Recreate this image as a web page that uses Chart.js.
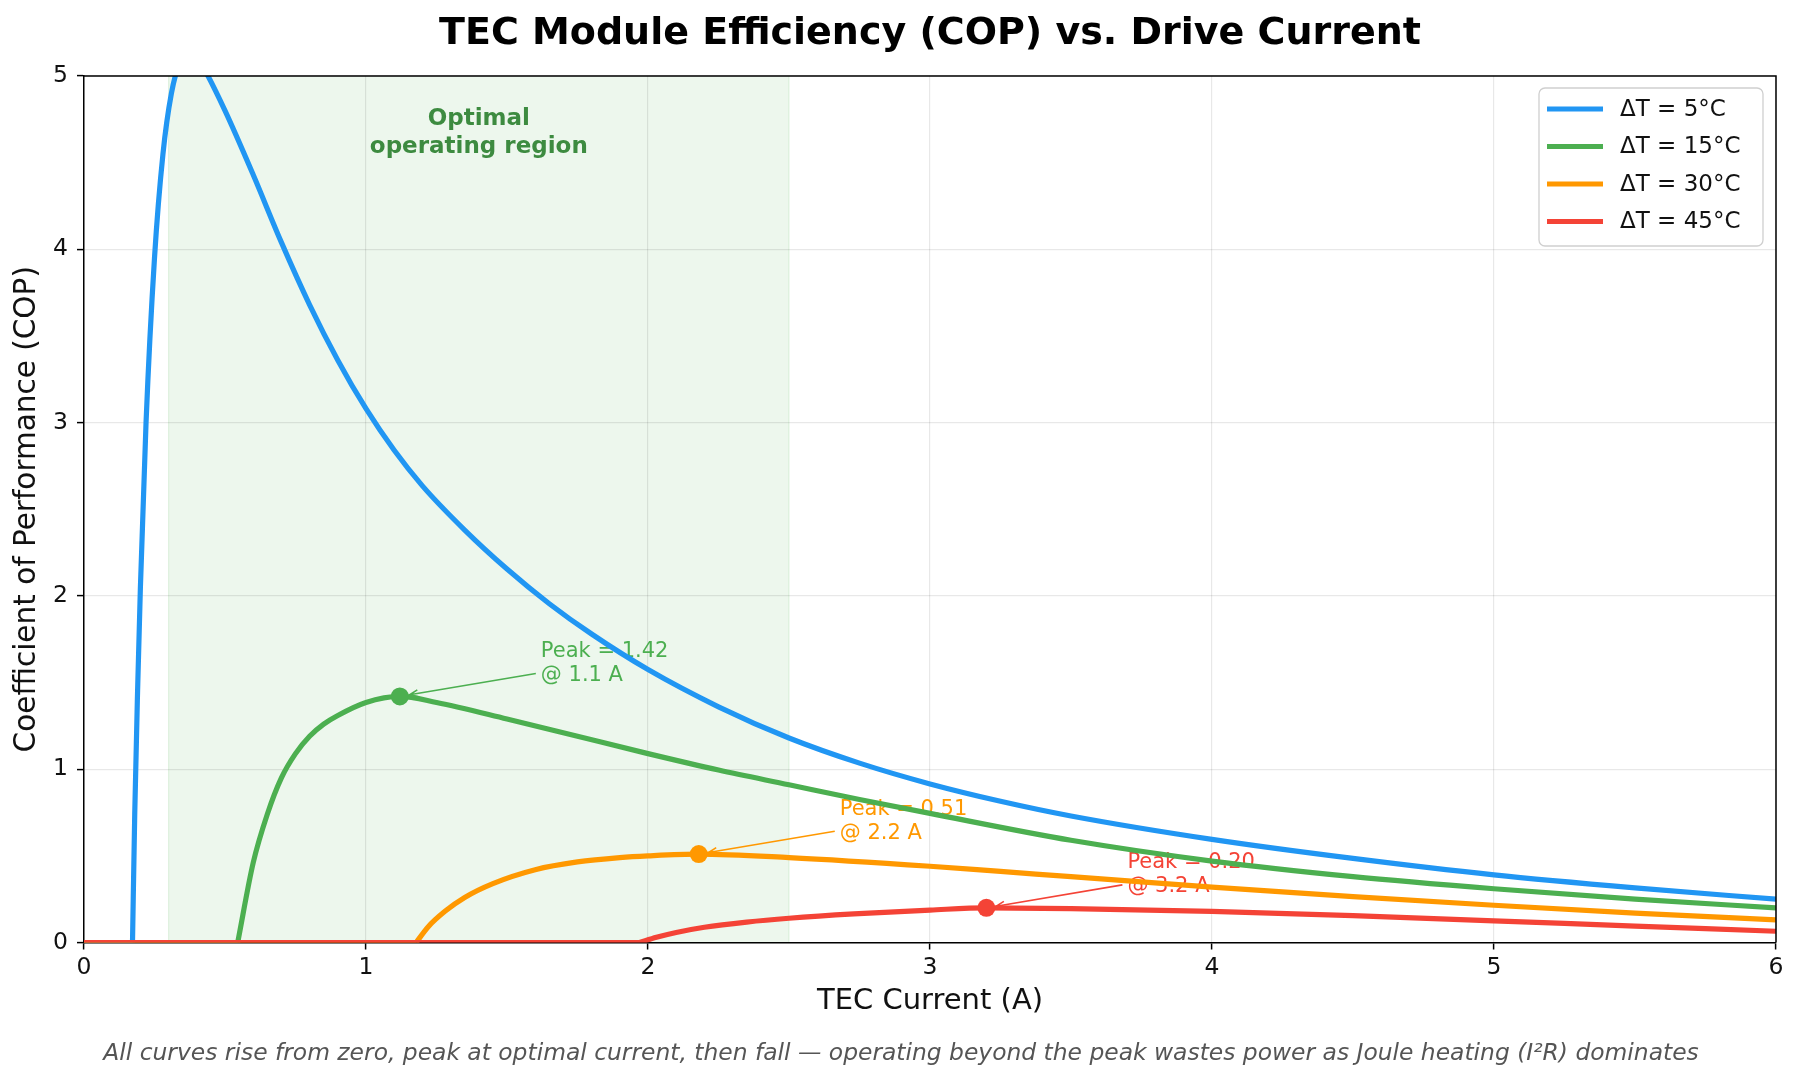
<!DOCTYPE html>
<html>
<head>
<meta charset="utf-8">
<title>TEC Module Efficiency (COP) vs. Drive Current</title>
<script src="https://cdn.jsdelivr.net/npm/chart.js@4.4.1/dist/chart.umd.min.js"></script>
<style>
  html, body { margin: 0; padding: 0; background: #fff; }
  canvas { display: block; }
</style>
</head>
<body>
<canvas id="copChart" width="1800" height="1083"></canvas>
<script>
// series names and colours
const seriesLabels = ['ΔT = 5°C', 'ΔT = 15°C', 'ΔT = 30°C', 'ΔT = 45°C'];
const seriesColors = ['#2196F3', '#4CAF50', '#FF9800', '#F44336'];

// TEC current (A) / COP, starting where it leaves zero
const currentDT5 = [0.172, 0.18, 0.19, 0.20, 0.22, 0.25, 0.28, 0.31, 0.34, 0.37, 0.40, 0.43, 0.5, 0.6, 0.7, 0.8, 0.9, 1.0, 1.1, 1.2, 1.35, 1.5, 1.65, 1.8, 2.0, 2.25, 2.5, 2.75, 3.0, 3.25, 3.5, 4.0, 4.5, 5.0, 5.5, 6.0];
const copDT5 = [0, 0.75, 1.45, 2.05, 3.0, 3.95, 4.55, 4.9, 5.08, 5.14, 5.11, 5.03, 4.80, 4.43, 4.04, 3.68, 3.36, 3.08, 2.84, 2.635, 2.38, 2.155, 1.955, 1.78, 1.575, 1.36, 1.18, 1.035, 0.915, 0.815, 0.73, 0.595, 0.485, 0.39, 0.315, 0.25];

const currentDT15 = [0.545, 0.6, 0.65, 0.7, 0.75, 0.8, 0.85, 0.9, 1.0, 1.12, 1.25, 1.5, 1.75, 2.0, 2.25, 2.5, 2.75, 3.0, 3.5, 4.0, 4.5, 5.0, 5.5, 6.0];
const copDT15 = [0, 0.46, 0.74, 0.95, 1.09, 1.19, 1.26, 1.31, 1.385, 1.42, 1.385, 1.29, 1.19, 1.09, 0.995, 0.91, 0.825, 0.745, 0.59, 0.47, 0.38, 0.31, 0.25, 0.20];

const currentDT30 = [1.178, 1.22, 1.28, 1.35, 1.45, 1.6, 1.75, 1.9, 2.0, 2.18, 2.5, 3.0, 3.25, 3.5, 4.0, 4.5, 5.0, 5.5, 6.0];
const copDT30 = [0, 0.09, 0.18, 0.26, 0.34, 0.42, 0.465, 0.49, 0.50, 0.51, 0.49, 0.44, 0.41, 0.38, 0.32, 0.265, 0.215, 0.17, 0.13];

const currentDT45 = [1.97, 2.03, 2.1, 2.2, 2.35, 2.5, 2.73, 3.0, 3.2, 3.5, 4.0, 4.5, 5.0, 5.5, 6.0];
const copDT45 = [0, 0.03, 0.058, 0.088, 0.118, 0.14, 0.165, 0.187, 0.20, 0.196, 0.18, 0.155, 0.125, 0.095, 0.065];

// marked peaks
const peakCurrent = [1.12, 2.18, 3.2];
const peakCop = [1.42, 0.51, 0.20];
const peakColors = ['#4CAF50', '#FF9800', '#F44336'];
const peakText = [['Peak = 1.42', '@ 1.1 A'], ['Peak = 0.51', '@ 2.2 A'], ['Peak = 0.20', '@ 3.2 A']];

// shaded band
const regionStart = 0.3;
const regionEnd = 2.5;
const regionText = ['Optimal', 'operating region'];

const chartTitle = 'TEC Module Efficiency (COP) vs. Drive Current';
const footNote = 'All curves rise from zero, peak at optimal current, then fall — operating beyond the peak wastes power as Joule heating (I²R) dominates';

const FONT = "'DejaVu Sans', 'Liberation Sans', sans-serif";
Chart.defaults.font.family = FONT;

// zero run along the axis, then a break, then the curve itself
function curve(xs, ys) {
  const pts = [{x: 0, y: 0}, {x: xs[0], y: 0}, {x: xs[0], y: null}];
  xs.forEach((x, i) => pts.push({x: x, y: ys[i]}));
  return pts;
}

const curves = [
  curve(currentDT5, copDT5),
  curve(currentDT15, copDT15),
  curve(currentDT30, copDT30),
  curve(currentDT45, copDT45),
];

const datasets = curves.map((pts, i) => ({
  label: seriesLabels[i],
  data: pts,
  borderColor: seriesColors[i],
  backgroundColor: seriesColors[i],
  borderWidth: 5.2,
  pointRadius: 0,
  pointHoverRadius: 0,
  cubicInterpolationMode: 'monotone',
  spanGaps: false,
  clip: 0,
  order: 4 - i,
}));

datasets.push({
  label: 'peaks',
  data: peakCurrent.map((c, i) => ({x: c, y: peakCop[i]})),
  showLine: false,
  pointRadius: 9,
  pointHoverRadius: 9,
  pointBorderWidth: 0,
  pointBackgroundColor: peakColors,
  pointBorderColor: peakColors,
  clip: 0,
  order: 0,
});

const decor = {
  id: 'decor',
  beforeDraw(chart) {
    const {ctx, chartArea: a, scales: {x}} = chart;
    ctx.save();
    ctx.fillStyle = '#fff';
    ctx.fillRect(0, 0, chart.width, chart.height);
    const x0 = x.getPixelForValue(regionStart);
    const x1 = x.getPixelForValue(regionEnd);
    ctx.fillStyle = 'rgba(76,175,80,0.1)';
    ctx.fillRect(x0, a.top, x1 - x0, a.bottom - a.top);
    ctx.strokeStyle = 'rgba(76,175,80,0.14)';
    ctx.lineWidth = 1.2;
    ctx.beginPath();
    ctx.moveTo(x0, a.top); ctx.lineTo(x0, a.bottom);
    ctx.moveTo(x1, a.top); ctx.lineTo(x1, a.bottom);
    ctx.stroke();
    ctx.restore();
  },
  beforeDatasetsDraw(chart) {
    const {ctx, scales: {x, y}} = chart;
    ctx.save();
    // band label
    ctx.fillStyle = '#3d8b40';
    ctx.font = 'bold 23px ' + FONT;
    ctx.textAlign = 'center';
    ctx.textBaseline = 'middle';
    const cx = x.getPixelForValue((regionStart + regionEnd) / 2);
    const cy = y.getPixelForValue(4.67);
    ctx.fillText(regionText[0], cx, cy - 14);
    ctx.fillText(regionText[1], cx, cy + 14);

    // peak notes with arrows
    ctx.font = '21px ' + FONT;
    ctx.textAlign = 'left';
    peakCurrent.forEach((c, i) => {
      const px = x.getPixelForValue(c);
      const py = y.getPixelForValue(peakCop[i]);
      const tx = x.getPixelForValue(c + 0.5);
      const ty = y.getPixelForValue(peakCop[i] + 0.19);
      ctx.fillStyle = peakColors[i];
      ctx.fillText(peakText[i][0], tx, ty - 12);
      ctx.fillText(peakText[i][1], tx, ty + 12);

      const sx = tx - 5, sy = ty + 10;
      const ang = Math.atan2(py - sy, px - sx);
      const ex = px - Math.cos(ang) * 10, ey = py - Math.sin(ang) * 10;
      ctx.strokeStyle = peakColors[i];
      ctx.lineWidth = 1.6;
      ctx.beginPath();
      ctx.moveTo(sx, sy);
      ctx.lineTo(ex, ey);
      const h = 9;
      ctx.moveTo(ex - Math.cos(ang - 0.4) * h, ey - Math.sin(ang - 0.4) * h);
      ctx.lineTo(ex, ey);
      ctx.lineTo(ex - Math.cos(ang + 0.4) * h, ey - Math.sin(ang + 0.4) * h);
      ctx.stroke();
    });
    ctx.restore();
  },
  afterDraw(chart) {
    const {ctx, chartArea: a} = chart;
    ctx.save();
    // title, centred over the plot area
    ctx.fillStyle = '#000';
    ctx.font = 'bold 38px ' + FONT;
    ctx.textAlign = 'center';
    ctx.textBaseline = 'middle';
    ctx.fillText(chartTitle, (a.left + a.right) / 2, 34);

    // footnote, centred on the figure
    ctx.fillStyle = '#555';
    ctx.font = 'italic 23.4px ' + FONT;
    ctx.fillText(footNote, chart.width / 2 + 1, 1054);

    // top and right spines
    ctx.strokeStyle = '#000';
    ctx.lineWidth = 1.5;
    ctx.beginPath();
    ctx.moveTo(a.left, a.top); ctx.lineTo(a.right, a.top); ctx.lineTo(a.right, a.bottom);
    ctx.stroke();

    // legend box, upper right
    const w = 224, h = 158;
    const left = a.right - 13 - w, top = a.top + 12;
    ctx.beginPath();
    ctx.roundRect(left, top, w, h, 6);
    ctx.fillStyle = 'rgba(255,255,255,0.85)';
    ctx.fill();
    ctx.strokeStyle = '#cfcfcf';
    ctx.lineWidth = 1.3;
    ctx.stroke();
    ctx.font = '23px ' + FONT;
    ctx.textAlign = 'left';
    ctx.textBaseline = 'middle';
    seriesLabels.forEach((lab, i) => {
      const ry = top + 21 + i * 37.5;
      ctx.strokeStyle = seriesColors[i];
      ctx.lineWidth = 5;
      ctx.beginPath();
      ctx.moveTo(left + 8, ry); ctx.lineTo(left + 64, ry);
      ctx.stroke();
      ctx.fillStyle = '#111';
      ctx.fillText(lab, left + 81, ry + 1);
    });
    ctx.restore();
  }
};

new Chart(document.getElementById('copChart'), {
  type: 'line',
  data: { datasets: datasets },
  plugins: [decor],
  options: {
    responsive: false,
    animation: false,
    devicePixelRatio: 1,
    layout: { padding: { top: 76, right: 24, bottom: 49.1, left: 0 } },
    plugins: {
      legend: { display: false },
      tooltip: { enabled: false },
      title: { display: false }
    },
    scales: {
      x: {
        type: 'linear',
        min: 0,
        max: 6,
        afterFit: (s) => { s.height = 91.4; },
        ticks: { stepSize: 1, color: '#111', font: { size: 23.5 }, padding: 4.4 },
        grid: { color: 'rgba(0,0,0,0.09)', lineWidth: 1.2, tickLength: 7, tickColor: '#000', tickWidth: 1.5 },
        border: { color: '#000', width: 1.5 },
        title: { display: true, text: 'TEC Current (A)', color: '#111', font: { size: 29 }, padding: { top: 0, bottom: 15 } }
      },
      y: {
        min: 0,
        max: 5,
        afterFit: (s) => { s.width = 84; },
        ticks: { stepSize: 1, color: '#111', font: { size: 23.5 }, padding: 9 },
        grid: { color: 'rgba(0,0,0,0.09)', lineWidth: 1.2, tickLength: 7, tickColor: '#000', tickWidth: 1.5 },
        border: { color: '#000', width: 1.5 },
        title: { display: true, text: 'Coefficient of Performance (COP)', color: '#111', font: { size: 29.5 }, padding: { top: 10, bottom: 0 } }
      }
    }
  }
});
</script>
</body>
</html>
